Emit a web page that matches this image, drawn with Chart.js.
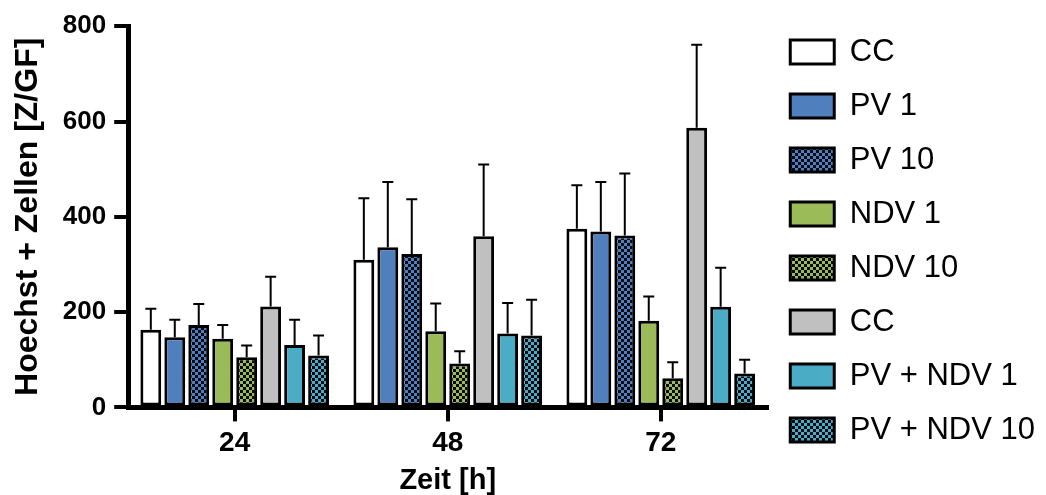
<!DOCTYPE html>
<html>
<head>
<meta charset="utf-8">
<script src="https://cdn.jsdelivr.net/npm/chart.js@4"></script>
<style>
  html, body { margin: 0; padding: 0; background: #fff; }
  #wrap { width: 1046px; height: 495px; }
</style>
</head>
<body>
<div id="wrap"><canvas id="chart"></canvas></div>
<script>
// Time points (h)
const timepoints = ['24', '48', '72'];

// Series labels
const seriesNames = ['CC', 'PV 1', 'PV 10', 'NDV 1', 'NDV 10', 'CC', 'PV + NDV 1', 'PV + NDV 10'];

// Mean Hoechst+ cells per field of view
const meanCC      = [163, 310, 375];
const meanPV1     = [147, 336, 369];
const meanPV10    = [173, 322, 361];
const meanNDV1    = [144, 160, 182];
const meanNDV10   = [105, 92, 61];
const meanCC2     = [212, 359, 587];
const meanPVNDV1  = [131, 155, 211];
const meanPVNDV10 = [109, 151, 71];

// Standard deviations (upper whiskers)
const sdCC      = [44, 129, 91];
const sdPV1     = [37, 137, 104];
const sdPV10    = [44, 115, 130];
const sdNDV1    = [29, 58, 51];
const sdNDV10   = [25, 26, 34];
const sdCC2     = [62, 151, 174];
const sdPVNDV1  = [53, 64, 82];
const sdPVNDV10 = [42, 75, 29];

// Y-axis ticks
const yTicks = [0, 200, 400, 600, 800];

const means = [meanCC, meanPV1, meanPV10, meanNDV1, meanNDV10, meanCC2, meanPVNDV1, meanPVNDV10];
const sds   = [sdCC, sdPV1, sdPV10, sdNDV1, sdNDV10, sdCC2, sdPVNDV1, sdPVNDV10];

// Checkerboard fill for the "10" series
function checker(color) {
  const c = document.createElement('canvas');
  c.width = 6; c.height = 6;
  const g = c.getContext('2d');
  g.fillStyle = color;
  g.fillRect(0, 0, 6, 6);
  g.fillStyle = '#0a0a14';
  g.fillRect(0, 0, 3, 3);
  g.fillRect(3, 3, 3, 3);
  return g.createPattern(c, 'repeat');
}

const BLUE = '#4f7fbd', GREEN = '#9bbb59', CYAN = '#4bacc6', GREY = '#c0c0c0';
const fills = [
  '#ffffff', BLUE, checker(BLUE), GREEN, checker(GREEN), GREY, CYAN, checker(CYAN)
];

const datasets = seriesNames.map((name, i) => ({
  label: name,
  data: means[i],
  backgroundColor: fills[i],
  borderColor: '#000',
  borderWidth: 3,
  borderSkipped: false,
  categoryPercentage: 0.9,
  barPercentage: 0.87
}));

// Upper error whiskers with caps
const errorBars = {
  id: 'errorBars',
  afterDatasetsDraw(chart) {
    const ctx = chart.ctx;
    const y = chart.scales.y;
    ctx.save();
    ctx.strokeStyle = '#000';
    ctx.lineWidth = 2;
    chart.data.datasets.forEach((ds, i) => {
      const meta = chart.getDatasetMeta(i);
      meta.data.forEach((bar, j) => {
        const top = y.getPixelForValue(means[i][j] + sds[i][j]);
        const base = y.getPixelForValue(means[i][j]);
        ctx.beginPath();
        ctx.moveTo(bar.x, base);
        ctx.lineTo(bar.x, top);
        ctx.moveTo(bar.x - 5.5, top);
        ctx.lineTo(bar.x + 5.5, top);
        ctx.stroke();
      });
    });
    ctx.restore();
  }
};

// Let the legend box extend to the canvas edge so long labels are not clipped
const legendToEdge = {
  id: 'legendToEdge',
  afterLayout(chart) {
    const lg = chart.legend;
    if (lg) {
      lg.right = chart.width;
      lg.width = lg.right - lg.left;
    }
  }
};

Chart.defaults.font.family = "'Liberation Sans', Arial, sans-serif";
Chart.defaults.color = '#000';

new Chart(document.getElementById('chart'), {
  type: 'bar',
  data: { labels: timepoints, datasets },
  plugins: [errorBars, legendToEdge],
  options: {
    responsive: true,
    maintainAspectRatio: false,
    animation: false,
    layout: { padding: { top: 13.5, left: 0, right: 23, bottom: 0 } },
    plugins: {
      tooltip: { enabled: false },
      legend: {
        position: 'right',
        align: 'start',
        labels: {
          boxWidth: 44,
          boxHeight: 24,
          padding: 23,
          color: '#000',
          font: { size: 31, lineHeight: 1.0 }
        }
      }
    },
    scales: {
      x: {
        grid: { display: true, drawOnChartArea: false, offset: false, color: '#000', lineWidth: 4, tickLength: 14 },
        border: { display: true, color: '#000', width: 5 },
        ticks: { font: { size: 28, weight: 'bold', lineHeight: 1.45 }, color: '#000', padding: 2 },
        title: { display: true, text: 'Zeit [h]', font: { size: 29, weight: 'bold', lineHeight: 1.0 }, color: '#000', padding: 0 }
      },
      y: {
        min: 0,
        max: 800,
        afterBuildTicks(scale) { scale.ticks = yTicks.map(v => ({ value: v })); },
        grid: { display: true, drawOnChartArea: false, color: '#000', lineWidth: 4, tickLength: 14 },
        border: { display: true, color: '#000', width: 5 },
        ticks: { font: { size: 26, weight: 'bold', lineHeight: 1.4 }, color: '#000', padding: 8 },
        title: { display: true, text: 'Hoechst + Zellen [Z/GF]', font: { size: 32, weight: 'bold' }, color: '#000', padding: { top: 9, bottom: 7.4 } }
      }
    }
  }
});
</script>
</body>
</html>
